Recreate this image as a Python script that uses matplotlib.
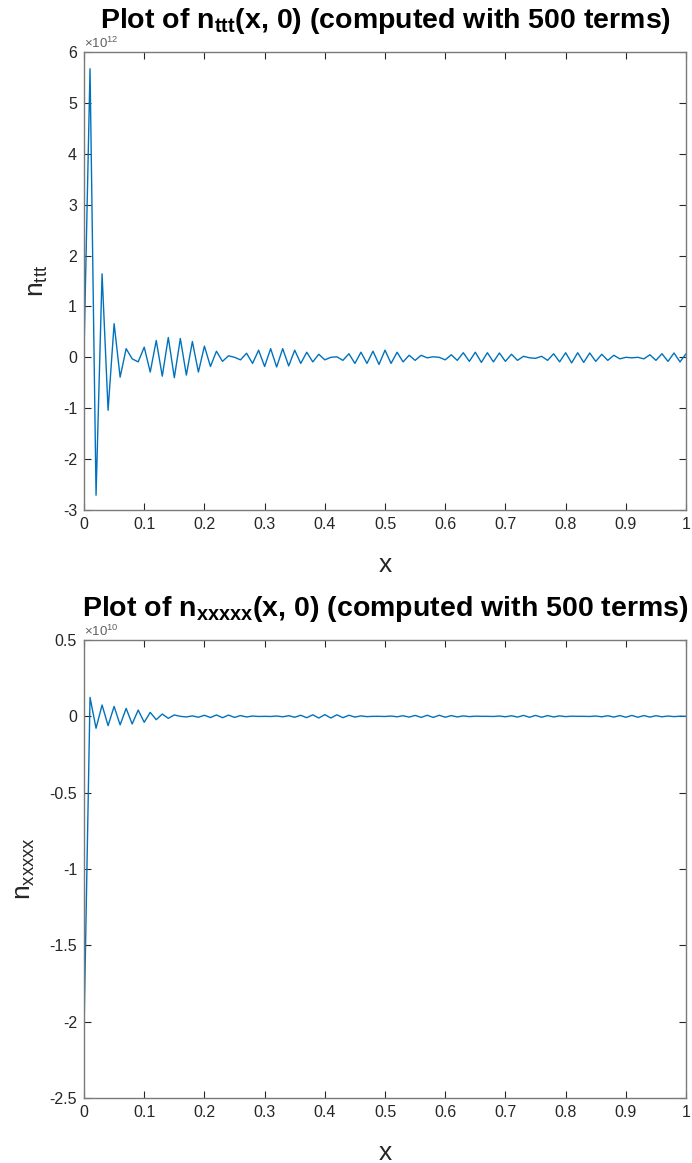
import numpy as np
import matplotlib
matplotlib.use("Agg")
import matplotlib.pyplot as plt

plt.rcParams['font.family'] = ['Liberation Sans', 'DejaVu Sans']
plt.rcParams['mathtext.fontset'] = 'custom'
plt.rcParams['mathtext.rm'] = 'Liberation Sans'
plt.rcParams['mathtext.bf'] = 'Liberation Sans:bold'
plt.rcParams['mathtext.it'] = 'Liberation Sans:italic'
plt.rcParams['axes.unicode_minus'] = False

# sample points
x = np.linspace(0, 1, 101)

# n_ttt(x, 0), units of 1e12
n_ttt = [
    0.10, 5.67, -2.71, 1.64, -1.04, 0.66, -0.39, 0.17, -0.03, -0.09,
    0.20, -0.29, 0.33, -0.37, 0.39, -0.40, 0.37, -0.35, 0.31, -0.29,
    0.22, -0.18, 0.12, -0.08, 0.03, 0.00, -0.05, 0.08, -0.12, 0.14,
    -0.18, 0.17, -0.19, 0.17, -0.17, 0.14, -0.12, 0.10, -0.09, 0.06,
    -0.05, 0.00, 0.01, -0.06, 0.07, -0.12, 0.10, -0.12, 0.12, -0.14,
    0.14, -0.12, 0.10, -0.09, 0.04, -0.06, 0.04, -0.01, 0.01, 0.00,
    -0.05, 0.05, -0.06, 0.09, -0.08, 0.10, -0.10, 0.09, -0.09, 0.085,
    -0.08, 0.06, -0.06, 0.02, -0.01, -0.02, 0.02, -0.06, 0.07, -0.09,
    0.09, -0.11, 0.09, -0.10, 0.085, -0.08, 0.06, -0.06, 0.04, -0.03,
    0.00, -0.01, 0.00, -0.03, 0.05, -0.06, 0.07, -0.08, 0.085, -0.09,
    0.07,
]

# n_xxxxx(x, 0), units of 1e10
n_xxxxx = [
    -2.06, 0.124, -0.078, 0.074, -0.061, 0.065, -0.056, 0.052, -0.050, 0.041,
    -0.039, 0.026, -0.022, 0.015, -0.013, 0.009, 0.000, -0.004, 0.003, -0.006,
    0.007, -0.008, 0.009, -0.009, 0.008, -0.007, 0.005, -0.004, 0.002, -0.001,
    0.000, -0.001, 0.002, -0.003, 0.004, -0.006, 0.007, -0.009, 0.010, -0.011,
    0.011, -0.011, 0.010, -0.009, 0.007, -0.005, 0.003, -0.002, 0.000, 0.000,
    -0.001, 0.002, -0.003, 0.004, -0.005, 0.006, -0.007, 0.007, -0.007, 0.007,
    -0.006, 0.005, -0.004, 0.003, -0.002, 0.001, 0.000, 0.000, -0.001, 0.002,
    -0.003, 0.004, -0.005, 0.006, -0.006, 0.006, -0.006, 0.005, -0.004, 0.003,
    -0.002, 0.001, 0.000, 0.000, -0.001, 0.002, -0.003, 0.004, -0.005, 0.005,
    -0.006, 0.006, -0.006, 0.005, -0.005, 0.004, -0.003, 0.002, -0.002, 0.001,
    0.000,
]

x_ticks = [0, 0.1, 0.2, 0.3, 0.4, 0.5, 0.6, 0.7, 0.8, 0.9, 1]
x_labels = ['0', '0.1', '0.2', '0.3', '0.4', '0.5', '0.6', '0.7', '0.8', '0.9', '1']
top_yticks = [-3, -2, -1, 0, 1, 2, 3, 4, 5, 6]
bot_yticks = [-2.5, -2, -1.5, -1, -0.5, 0, 0.5]
bot_ylabels = ['-2.5', '-2', '-1.5', '-1', '-0.5', '0', '0.5']

line_color = '#0072BD'
axis_color = '#262626'


def style_axes(ax, yticks, ylabels, scale, exp):
    ax.set_xlim(0, 1)
    ax.set_ylim(yticks[0] * scale, yticks[-1] * scale)
    ax.set_xticks(x_ticks)
    ax.set_xticklabels(x_labels)
    ax.set_yticks([v * scale for v in yticks])
    ax.set_yticklabels(ylabels)
    ax.tick_params(direction='in', top=True, right=True, length=5,
                   width=0.8, color=axis_color, labelcolor=axis_color,
                   labelsize=11.5, pad=5)
    for s in ax.spines.values():
        s.set_color('#7a7a7a')
        s.set_linewidth(1.0)
    ax.set_xlabel('x', fontsize=19, color=axis_color, labelpad=15)
    # exponent note above the y axis
    ax.text(0.0, 1.002, r'$\times10^{%d}$' % exp, transform=ax.transAxes,
            fontsize=9.5, color='#606060', ha='left', va='bottom')


fig = plt.figure(figsize=(6.92, 11.63), dpi=100)

# top panel
ax1 = fig.add_axes([0.1214, 0.5615, 0.870, 0.3938])
ax1.plot(x, np.array(n_ttt) * 1e12, color=line_color, lw=1.0)
style_axes(ax1, top_yticks, [str(v) for v in top_yticks], 1e12, 12)
ax1.set_ylabel(r'n$_{\mathrm{ttt}}$', fontsize=19, color=axis_color, labelpad=9)
ax1.set_title(r'Plot of n$_{\mathbf{ttt}}$(x, 0) (computed with 500 terms)',
              fontsize=20.5, fontweight='bold', pad=17)

# bottom panel
ax2 = fig.add_axes([0.1214, 0.0559, 0.870, 0.3938])
ax2.plot(x, np.array(n_xxxxx) * 1e10, color=line_color, lw=1.0)
style_axes(ax2, bot_yticks, bot_ylabels, 1e10, 10)
ax2.set_ylabel(r'n$_{\mathrm{xxxxx}}$', fontsize=19, color=axis_color, labelpad=9)
ax2.set_title(r'Plot of n$_{\mathbf{xxxxx}}$(x, 0) (computed with 500 terms)',
              fontsize=20.5, fontweight='bold', pad=17)

fig.savefig('out.png', dpi=100)
